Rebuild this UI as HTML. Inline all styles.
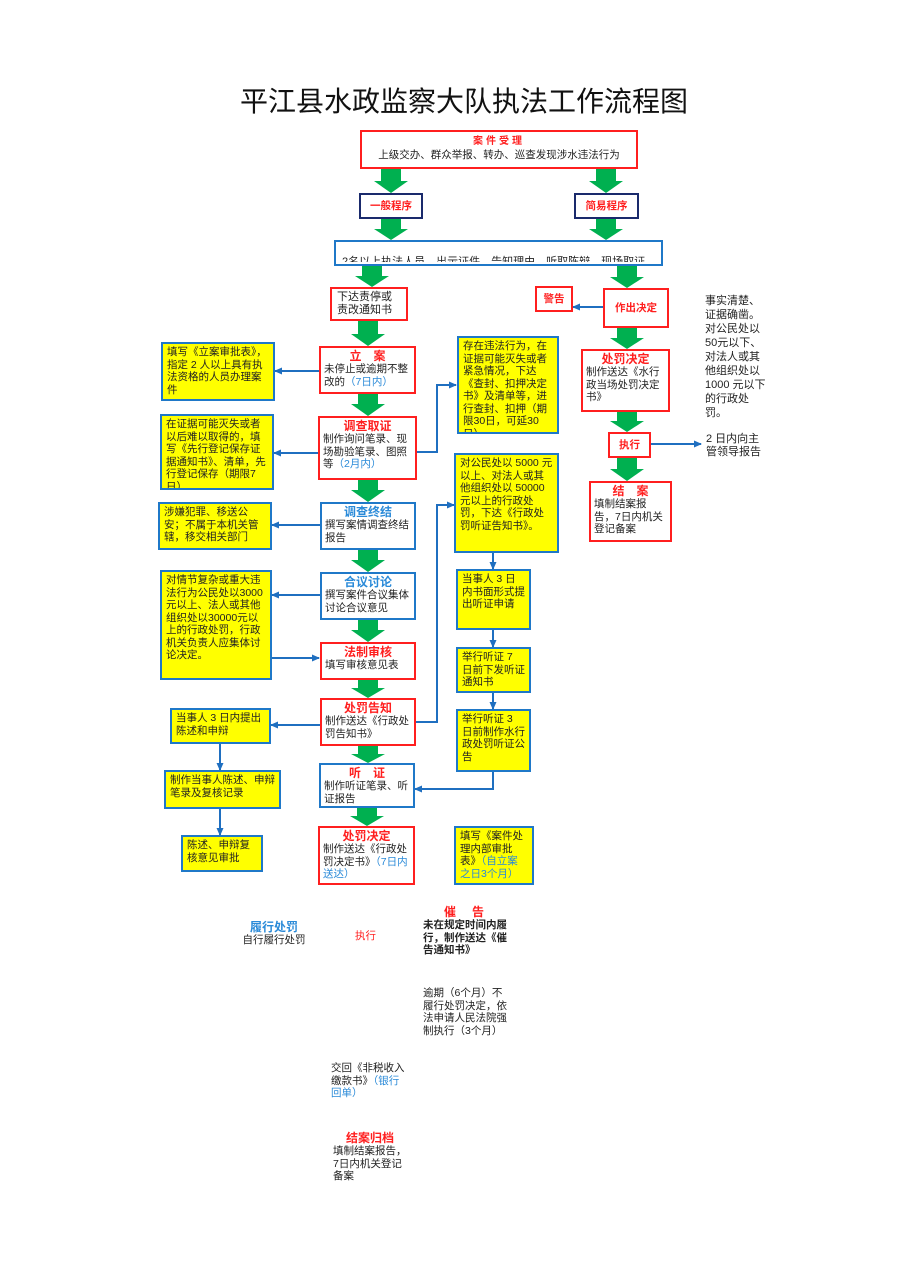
<!DOCTYPE html>
<html><head><meta charset="utf-8">
<style>
body{margin:0;background:#fff;}
#c{position:relative;width:898px;height:1269px;overflow:hidden;font-family:"Liberation Sans","Noto Sans CJK SC",sans-serif;color:#222;}
.b{position:absolute;box-sizing:border-box;border:2px solid #ff1f1f;background:#fff;font-size:10.5px;line-height:12.5px;padding:1px 3px;overflow:hidden;}
.r{border-color:#ff1f1f;}
.bl{border-color:#1f78c8;}
.n{border-color:#1a2a6c;}
.y{background:#ffff00;border-color:#1f78c8;border-width:2px;padding:2px 4px;}
.t{position:absolute;font-size:10.5px;line-height:12.5px;}
.red{color:#ff1f1f;font-size:12px;font-weight:bold;line-height:14px;}
.blu{color:#2a8ad8;}
.hb{color:#2a8ad8;font-size:12px;font-weight:bold;line-height:14px;}
.c{text-align:center;}
</style></head><body><div id="c">
<div class="t" style="left:0;width:928px;top:85px;font-size:28px;line-height:34px;text-align:center;color:#111">平江县水政监察大队执法工作流程图</div>

<svg width="898" height="1269" style="position:absolute;left:0;top:0">
<defs><marker id="a" markerWidth="8" markerHeight="8" refX="7" refY="4" orient="auto" markerUnits="userSpaceOnUse"><path d="M0,0.5 L8,4 L0,7.5 z" fill="#1f6fc0"/></marker></defs>
<g fill="#00b050">
<polygon points="381,169 401,169 401,181 408,181 391,193 374,181 381,181"/>
<polygon points="596,169 616,169 616,181 623,181 606,193 589,181 596,181"/>
<polygon points="381,218 401,218 401,229 408,229 391,240 374,229 381,229"/>
<polygon points="596,218 616,218 616,229 623,229 606,240 589,229 596,229"/>
<polygon points="362,265 382,265 382,276 389,276 372,287 355,276 362,276"/>
<polygon points="617,265 637,265 637,277 644,277 627,288 610,277 617,277"/>
<polygon points="358,321 378,321 378,334 385,334 368,346 351,334 358,334"/>
<polygon points="358,393 378,393 378,404 385,404 368,416 351,404 358,404"/>
<polygon points="358,479 378,479 378,490 385,490 368,502 351,490 358,490"/>
<polygon points="358,549 378,549 378,560 385,560 368,572 351,560 358,560"/>
<polygon points="358,619 378,619 378,630 385,630 368,642 351,630 358,630"/>
<polygon points="358,679 378,679 378,688 385,688 368,698 351,688 358,688"/>
<polygon points="358,745 378,745 378,754 385,754 368,763 351,754 358,754"/>
<polygon points="357,807 377,807 377,816 384,816 367,826 350,816 357,816"/>
<polygon points="617,327 637,327 637,338 644,338 627,349 610,338 617,338"/>
<polygon points="617,411 637,411 637,421 644,421 627,432 610,421 617,421"/>
<polygon points="617,457 637,457 637,469 644,469 627,481 610,469 617,469"/>
</g>
<g stroke="#1f6fc0" stroke-width="2" fill="none" marker-end="url(#a)">
<path d="M603,307 H573"/>
<path d="M319,371 H275"/>
<path d="M318,453 H274"/>
<path d="M320,525 H272"/>
<path d="M320,595 H272"/>
<path d="M271,658 H319"/>
<path d="M320,725 H271"/>
<path d="M416,452 H437 V385 H456"/>
<path d="M415,722 H437 V505 H454"/>
<path d="M493,553 V569"/>
<path d="M493,629 V647"/>
<path d="M493,692 V709"/>
<path d="M493,771 V789 H415"/>
<path d="M220,744 V770"/>
<path d="M220,808 V835"/>
<path d="M650,444 H701"/>
</g>
</svg>

<div class="b r c" style="left:360px;top:130px;width:278px;height:39px;padding:3px 0 0"><span style="color:#ff1f1f;font-size:10px;font-weight:bold;letter-spacing:3px">案件受理</span><br><span style="font-size:10.5px;white-space:nowrap">上级交办、群众举报、转办、巡查发现涉水违法行为</span></div>
<div class="b n c" style="left:359px;top:193px;width:64px;height:26px;line-height:22px;color:#ff1f1f;font-weight:bold;padding:0">一般程序</div>
<div class="b n c" style="left:574px;top:193px;width:65px;height:26px;line-height:22px;color:#ff1f1f;font-weight:bold;padding:0">简易程序</div>
<div class="b bl" style="left:334px;top:240px;width:329px;height:26px;overflow:hidden;padding:0"><div style="position:absolute;left:6px;top:13px;font-size:11px;white-space:nowrap;height:7px;overflow:hidden;line-height:14px">2名以上执法人员、出示证件、告知理由、听取陈辩、现场取证</div></div>

<div class="b r" style="left:330px;top:287px;width:78px;height:34px;font-size:11px;padding:2px 5px">下达责停或<br>责改通知书</div>
<div class="b r c" style="left:535px;top:286px;width:38px;height:26px;line-height:22px;padding:0;color:#ff1f1f;font-weight:bold">警告</div>
<div class="b r c" style="left:603px;top:288px;width:66px;height:40px;line-height:36px;padding:0;color:#ff1f1f;font-weight:bold">作出决定</div>
<div class="t" style="left:705px;top:294px;width:64px;font-size:11px;line-height:14px">事实清楚、证据确凿。对公民处以50元以下、对法人或其他组织处以1000 元以下的行政处罚。</div>

<div class="b r" style="left:319px;top:346px;width:97px;height:48px"><div class="red c">立　案</div>未停止或逾期不整改的<span class="blu">（7日内）</span></div>
<div class="b y" style="left:161px;top:342px;width:114px;height:59px">填写《立案审批表》，指定 2 人以上具有执法资格的人员办理案件</div>
<div class="b y" style="left:457px;top:336px;width:102px;height:98px">存在违法行为，在证据可能灭失或者紧急情况，下达《查封、扣押决定书》及清单等，进行查封、扣押（期限30日，可延30日）</div>

<div class="b r" style="left:318px;top:416px;width:99px;height:64px"><div class="red c">调查取证</div>制作询问笔录、现场勘验笔录、图照等<span class="blu">（2月内）</span></div>
<div class="b y" style="left:160px;top:414px;width:114px;height:76px">在证据可能灭失或者以后难以取得的，填写《先行登记保存证据通知书》、清单，先行登记保存（期限7日）</div>
<div class="b y" style="left:454px;top:453px;width:105px;height:100px">对公民处以 5000 元以上、对法人或其他组织处以 50000 元以上的行政处罚，下达《行政处罚听证告知书》。</div>

<div class="b bl" style="left:320px;top:502px;width:96px;height:48px"><div class="hb c">调查终结</div>撰写案情调查终结报告</div>
<div class="b y" style="left:158px;top:502px;width:114px;height:48px">涉嫌犯罪、移送公安；不属于本机关管辖，移交相关部门</div>

<div class="b bl" style="left:320px;top:572px;width:96px;height:48px"><div class="hb c">合议讨论</div>撰写案件合议集体讨论合议意见</div>
<div class="b y" style="left:160px;top:570px;width:112px;height:110px">对情节复杂或重大违法行为公民处以3000元以上、法人或其他组织处以30000元以上的行政处罚，行政机关负责人应集体讨论决定。</div>
<div class="b y" style="left:456px;top:569px;width:75px;height:61px">当事人 3 日内书面形式提出听证申请</div>

<div class="b r" style="left:320px;top:642px;width:96px;height:38px"><div class="red c">法制审核</div>填写审核意见表</div>
<div class="b y" style="left:456px;top:647px;width:75px;height:46px">举行听证 7 日前下发听证通知书</div>

<div class="b r" style="left:320px;top:698px;width:96px;height:48px"><div class="red c">处罚告知</div>制作送达《行政处罚告知书》</div>
<div class="b y" style="left:170px;top:708px;width:101px;height:36px">当事人 3 日内提出陈述和申辩</div>
<div class="b y" style="left:456px;top:709px;width:75px;height:63px">举行听证 3 日前制作水行政处罚听证公告</div>

<div class="b bl" style="left:319px;top:763px;width:96px;height:45px"><div class="red c">听　证</div>制作听证笔录、听证报告</div>
<div class="b y" style="left:164px;top:770px;width:117px;height:39px">制作当事人陈述、申辩笔录及复核记录</div>

<div class="b r" style="left:318px;top:826px;width:97px;height:59px"><div class="red c">处罚决定</div>制作送达《行政处罚决定书》<span class="blu">（7日内送达）</span></div>
<div class="b y" style="left:454px;top:826px;width:80px;height:59px">填写《案件处理内部审批表》<span class="blu">（自立案之日3个月）</span></div>
<div class="b y" style="left:181px;top:835px;width:82px;height:37px">陈述、申辩复核意见审批</div>

<div class="b r" style="left:581px;top:349px;width:89px;height:63px"><div class="red c">处罚决定</div>制作送达《水行政当场处罚决定书》</div>
<div class="b r c" style="left:608px;top:432px;width:43px;height:26px;line-height:22px;padding:0;color:#ff1f1f;font-weight:bold">执行</div>
<div class="t" style="left:706px;top:433px;width:64px;font-size:11px;line-height:13px">2 日内向主管领导报告</div>
<div class="b r" style="left:589px;top:481px;width:83px;height:61px"><div class="red c">结　案</div>填制结案报告，7日内机关登记备案</div>

<div class="t c" style="left:230px;top:920px;width:88px"><div class="hb">履行处罚</div>自行履行处罚</div>
<div class="t" style="left:355px;top:930px;color:#ff1f1f">执行</div>
<div class="t" style="left:423px;top:905px;width:84px;font-weight:bold"><div class="red c" style="letter-spacing:2px">催　告</div>未在规定时间内履行，制作送达《催告通知书》</div>
<div class="t" style="left:423px;top:987px;width:86px">逾期（6个月）不履行处罚决定，依法申请人民法院强制执行（3个月）</div>
<div class="t" style="left:331px;top:1062px;width:78px">交回《非税收入缴款书》<span class="blu">（银行回单）</span></div>
<div class="t" style="left:333px;top:1131px;width:74px"><div class="red c">结案归档</div>填制结案报告，7日内机关登记备案</div>
</div></body></html>
